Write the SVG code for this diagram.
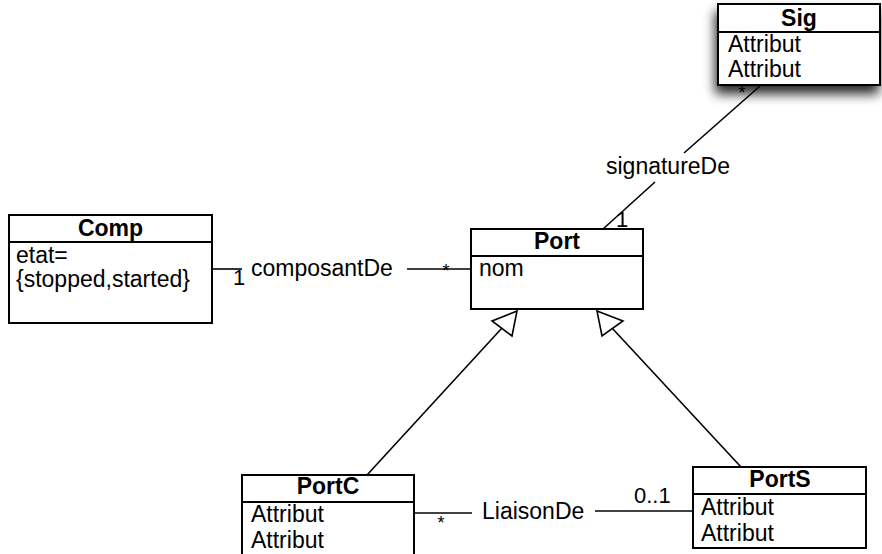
<svg xmlns="http://www.w3.org/2000/svg" width="882" height="554" viewBox="0 0 882 554">
<style>
.box{fill:#fff;stroke:#000;stroke-width:2}
.sep{stroke:#000;stroke-width:2}
.ln{stroke:#000;stroke-width:1.6;fill:none}
.tri{fill:#fff;stroke:#000;stroke-width:1.6}
text{font-family:"Liberation Sans",Arial,sans-serif;font-size:23px;fill:#000}
.t{font-weight:bold;text-anchor:middle}
.c{text-anchor:middle}
.m{font-size:22px}
.s{font-size:18px;text-anchor:middle}
</style>
<defs>
<filter id="sh" x="-20%" y="-30%" width="140%" height="180%">
<feGaussianBlur in="SourceAlpha" stdDeviation="6"/>
<feOffset dx="-2" dy="8" result="b"/>
<feComponentTransfer><feFuncA type="linear" slope="0.85"/></feComponentTransfer>
<feMerge><feMergeNode/><feMergeNode in="SourceGraphic"/></feMerge>
</filter>
</defs>
<rect width="882" height="554" fill="#fff"/>
<g id="connectors">
<line class="ln" x1="212" y1="269" x2="242" y2="269"/>
<line class="ln" x1="407" y1="269" x2="471" y2="269"/>
<text class="m" x="233" y="285">1</text>
<text x="251" y="276">composantDe</text>
<text class="s" x="446" y="277">*</text>
<line class="ln" x1="760" y1="86" x2="684" y2="153"/>
<line class="ln" x1="655" y1="182" x2="603" y2="229"/>
<text class="c" x="668" y="174">signatureDe</text>
<text class="s" x="742" y="99">*</text>
<text class="m" x="616" y="227">1</text>
<line class="ln" x1="367" y1="475" x2="502" y2="328"/>
<polygon class="tri" points="517,311 492,321 512,336"/>
<line class="ln" x1="741" y1="467" x2="612" y2="328"/>
<polygon class="tri" points="597,311 623,321 602,336"/>
<line class="ln" x1="414" y1="513" x2="472" y2="513"/>
<line class="ln" x1="595" y1="511" x2="693" y2="511"/>
<text x="482" y="519">LiaisonDe</text>
<text class="s" x="441" y="529">*</text>
<text class="m" x="634" y="503">0..1</text>
</g>
<g id="Comp">
<rect class="box" x="9" y="215" width="203" height="108"/>
<line class="sep" x1="9" y1="242" x2="212" y2="242"/>
<text class="t" x="110.5" y="236">Comp</text>
<text x="16" y="263">etat=</text>
<text x="16" y="287">{stopped,started}</text>
</g>
<g id="Port">
<rect class="box" x="471" y="229" width="172" height="80"/>
<line class="sep" x1="471" y1="256" x2="643" y2="256"/>
<text class="t" x="557" y="249">Port</text>
<text x="479" y="276">nom</text>
</g>
<g id="Sig">
<rect class="box" x="718" y="4" width="162" height="81" filter="url(#sh)"/>
<line class="sep" x1="718" y1="32" x2="880" y2="32"/>
<text class="t" x="799" y="26">Sig</text>
<text x="728" y="52">Attribut</text>
<text x="728" y="77">Attribut</text>
</g>
<g id="PortC">
<rect class="box" x="242" y="475" width="172" height="90"/>
<line class="sep" x1="242" y1="502" x2="414" y2="502"/>
<text class="t" x="328" y="494">PortC</text>
<text x="251" y="522">Attribut</text>
<text x="251" y="548">Attribut</text>
</g>
<g id="PortS">
<rect class="box" x="693" y="467" width="173" height="81"/>
<line class="sep" x1="693" y1="494" x2="866" y2="494"/>
<text class="t" x="780" y="487">PortS</text>
<text x="701" y="515">Attribut</text>
<text x="701" y="541">Attribut</text>
</g>
</svg>
